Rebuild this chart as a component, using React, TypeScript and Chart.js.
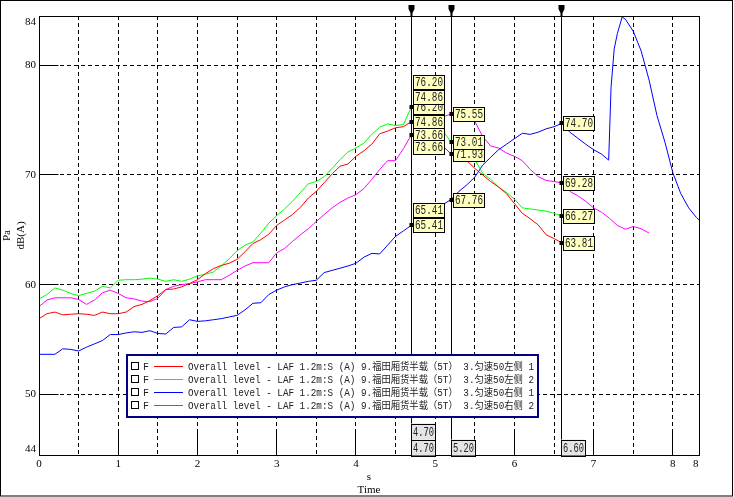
import React, { useEffect, useRef } from 'react';
import { Chart, registerables } from 'chart.js';

Chart.register(...registerables);

// ---------- data ----------
const time = [
  0.0, 0.1, 0.2, 0.3, 0.4, 0.5, 0.6, 0.7, 0.8, 0.9,
  1.0, 1.1, 1.2, 1.3, 1.4, 1.5, 1.6, 1.7, 1.8, 1.9,
  2.0, 2.1, 2.2, 2.3, 2.4, 2.5, 2.6, 2.7, 2.8, 2.9,
  3.0, 3.1, 3.2, 3.3, 3.4, 3.5, 3.6, 3.7, 3.8, 3.9,
  4.0, 4.1, 4.2, 4.3, 4.4, 4.5, 4.6, 4.7, 4.8, 4.9,
  5.0, 5.1, 5.2, 5.3, 5.4, 5.5, 5.6, 5.7, 5.8, 5.9,
  6.0, 6.1, 6.2, 6.3, 6.4, 6.5, 6.6, 6.7, 6.8, 6.9,
  7.0, 7.1, 7.2, 7.3, 7.4, 7.5, 7.6, 7.7,
];

// 左侧 1 (red)
const leftSide1 = [
  56.9, 57.35, 57.5, 57.25, 57.3, 57.35, 57.3, 57.2, 57.5, 57.35,
  57.35, 57.5, 58.0, 58.2, 58.55, 59.0, 59.55, 59.6, 59.8, 60.1,
  60.45, 61.0, 61.45, 61.75, 61.95, 62.3, 63.0, 63.75, 64.1, 64.6,
  65.4, 65.9, 66.4, 67.05, 67.9, 68.5, 69.3, 70.1, 70.8, 71.0,
  71.7, 72.2, 72.8, 73.75, 74.0, 74.3, 74.4, 74.86, 74.6, 74.0,
  73.3, 72.6, 71.93, 71.7, 71.3, 70.6, 70.0, 69.4, 68.9, 68.3,
  67.4, 66.5, 66.0, 65.45, 64.55, 64.2, 63.81,
];

// 左侧 2 (green)
const leftSide2 = [
  58.7, 59.1, 59.7, 59.5, 59.2, 59.0, 59.2, 59.4, 59.85, 59.7,
  60.4, 60.45, 60.45, 60.5, 60.6, 60.5, 60.3, 60.45, 60.3, 60.5,
  60.8, 60.95, 61.15, 61.7, 62.35, 63.1, 63.6, 63.9, 64.7, 65.6,
  66.3, 66.9, 67.6, 68.4, 69.2, 69.4, 69.85, 70.6, 71.4, 72.1,
  72.45, 72.9, 73.7, 74.35, 74.65, 74.5, 74.6, 76.2, 76.4, 75.9,
  75.0, 74.0, 73.01, 72.4, 71.9, 71.4, 70.15, 69.6, 68.9, 68.4,
  67.8, 67.0, 66.9, 66.8, 66.7, 66.5, 66.27,
];

// 右侧 2 (magenta)
const rightSide2 = [
  58.0, 58.6, 58.8, 58.8, 58.8, 58.65, 58.2, 58.6, 59.25, 59.5,
  59.2, 58.8, 58.7, 58.5, 58.45, 58.75, 59.55, 59.85, 60.0, 60.1,
  60.25, 60.45, 60.45, 60.45, 60.85, 61.3, 61.7, 62.0, 62.0, 62.0,
  62.9, 63.3, 63.95, 64.55, 65.1, 65.75, 66.4, 67.0, 67.5, 67.9,
  68.2, 68.75, 69.6, 70.5, 71.3, 71.3, 72.4, 73.66, 74.2, 74.6,
  75.0, 75.3, 75.55, 75.5, 75.2, 74.9, 73.5, 72.65, 72.45, 72.0,
  71.7, 71.3, 70.5, 69.85, 69.5, 69.4, 69.28, 68.5, 68.1, 67.6,
  67.0, 66.6, 66.05, 65.4, 65.05, 65.3, 65.1, 64.7,
];

// 右侧 1 (blue) has its own time base
const blueTime = [
  0.0, 0.1, 0.2, 0.3, 0.4, 0.5, 0.6, 0.7, 0.8, 0.9,
  1.0, 1.1, 1.2, 1.3, 1.4, 1.5, 1.6, 1.7, 1.8, 1.9,
  2.0, 2.1, 2.2, 2.3, 2.4, 2.5, 2.6, 2.7, 2.8, 2.9,
  3.0, 3.1, 3.2, 3.3, 3.4, 3.5, 3.6, 3.7, 3.8, 3.9,
  4.0, 4.1, 4.2, 4.3, 4.4, 4.5, 4.6, 4.7, 4.8, 4.9,
  5.0, 5.1, 5.2, 5.3, 5.4, 5.5, 5.6, 5.7, 5.8, 5.9,
  6.0, 6.1, 6.2, 6.3, 6.4, 6.5, 6.6, 6.7, 6.8, 6.9,
  7.0, 7.1, 7.19, 7.22, 7.26, 7.3, 7.36, 7.4, 7.5, 7.6,
  7.7, 7.8, 7.9, 8.0, 8.1, 8.2, 8.3, 8.33,
];
const rightSide1 = [
  53.65, 53.65, 53.65, 54.15, 54.1, 53.95, 54.3, 54.6, 54.9, 55.45,
  55.45, 55.6, 55.7, 55.65, 55.8, 55.55, 55.5, 56.1, 56.15, 56.8,
  56.65, 56.7, 56.8, 56.9, 57.05, 57.2, 57.7, 58.3, 58.35, 59.1,
  59.5, 59.8, 60.0, 60.15, 60.3, 60.4, 61.1, 61.3, 61.5, 61.7,
  61.95, 62.5, 62.85, 62.8, 63.6, 64.4, 64.9, 65.41, 65.9, 66.4,
  66.8, 67.3, 67.76, 68.5, 69.1, 69.8, 70.9, 71.6, 72.3, 72.8,
  73.3, 73.8, 73.7, 73.9, 74.2, 74.4, 74.7, 73.9, 73.35, 72.8,
  72.3, 71.9, 71.35, 78.0, 81.5, 82.9, 84.4, 84.2, 83.1, 81.3,
  78.65, 75.4, 73.0, 70.2, 68.3, 67.0, 66.1, 65.9,
];

const seriesLabels = [
  'Overall level - LAF 1.2m:S (A) 9.福田厢货半载（5T） 3.匀速50左侧 1',
  'Overall level - LAF 1.2m:S (A) 9.福田厢货半载（5T） 3.匀速50左侧 2',
  'Overall level - LAF 1.2m:S (A) 9.福田厢货半载（5T） 3.匀速50右侧 1',
  'Overall level - LAF 1.2m:S (A) 9.福田厢货半载（5T） 3.匀速50右侧 2',
];
const seriesColors = ['#ff0000', '#00ff00', '#0000ff', '#ff00ff'];

const cursorTimes = [4.7, 5.2, 6.6];

const xGridValues = [0, 0.5, 1, 1.5, 2, 2.5, 3, 3.5, 4, 4.5, 5, 5.5, 6, 6.5, 7, 7.5, 8];
const yTickValues = [50, 60, 70, 80];
const xMin = 0;
const xMax = 8.33;
const yMin = 44.47;
const yMax = 84.49;

const yTitle = ['Pa', 'dB(A)'];
const xTitle = ['s', 'Time'];

// ---------- helpers ----------
const SERIF = '"Liberation Serif", "Times New Roman", serif';
const MONO = '"Liberation Mono", "DejaVu Sans Mono", "Noto Sans CJK SC", monospace';
const LEGEND_FONT = '10px "Liberation Mono", "Noto Sans CJK SC", monospace';

const seriesDefs = [
  { t: time, v: leftSide1 },
  { t: time, v: leftSide2 },
  { t: blueTime, v: rightSide1 },
  { t: time, v: rightSide2 },
];

function valueAt(ts: number[], vs: number[], t: number): number | null {
  for (let i = 0; i < vs.length; i++) {
    if (Math.abs(ts[i] - t) < 1e-6) return vs[i];
  }
  return null;
}

const al = (p: number) => Math.round(p - 0.5) + 0.5;

function drawBox(ctx: CanvasRenderingContext2D, x: number, y: number, w: number, h: number, fill: string, text: string) {
  ctx.fillStyle = fill;
  ctx.fillRect(x, y, w, h);
  ctx.strokeStyle = '#000';
  ctx.lineWidth = 1;
  ctx.strokeRect(Math.round(x) + 0.5, Math.round(y) + 0.5, w, h);
  ctx.fillStyle = '#222';
  ctx.font = '12px ' + MONO;
  ctx.textAlign = 'left';
  ctx.textBaseline = 'middle';
  ctx.fillText(text, x + 2, y + h / 2 + 1, w - 3);
}

const overlay = {
  id: 'overlay',
  afterDraw(chart: any) {
    const { ctx, chartArea: ca } = chart;
    const xs = chart.scales.x;
    const ys = chart.scales.y;
    ctx.save();
    ctx.setLineDash([]);
    ctx.strokeStyle = '#000';
    ctx.lineWidth = 1;

    // plot frame
    const L = al(ca.left), R = al(ca.right), T = al(ca.top), B = al(ca.bottom);
    ctx.strokeRect(L, T, R - L, B - T);

    // inward solid tick segments
    ctx.beginPath();
    xGridValues.filter((v) => Number.isInteger(v) && v > 0).forEach((v) => {
      const px = al(xs.getPixelForValue(v));
      ctx.moveTo(px, B);
      ctx.lineTo(px, B - 23);
    });
    yTickValues.forEach((v) => {
      const py = al(ys.getPixelForValue(v));
      ctx.moveTo(L, py);
      ctx.lineTo(L + 19, py);
    });
    ctx.stroke();

    // cursors
    const boxW = 31;
    const boxH = 14;
    cursorTimes.forEach((ct, ci) => {
      const cx = al(xs.getPixelForValue(ct));
      ctx.strokeStyle = '#000';
      ctx.lineWidth = 1;
      ctx.beginPath();
      ctx.moveTo(cx, 6);
      ctx.lineTo(cx, B);
      ctx.stroke();
      // top marker
      ctx.fillStyle = '#000';
      ctx.beginPath();
      ctx.moveTo(cx - 3, 5);
      ctx.lineTo(cx + 3, 5);
      ctx.lineTo(cx + 3, 9);
      ctx.lineTo(cx + 1, 13);
      ctx.lineTo(cx + 1, 16);
      ctx.lineTo(cx - 1, 16);
      ctx.lineTo(cx - 1, 13);
      ctx.lineTo(cx - 3, 9);
      ctx.closePath();
      ctx.fill();

      const readings = seriesDefs.map((s) => valueAt(s.t, s.v, ct));
      // value-centred boxes
      readings.forEach((val) => {
        if (val == null) return;
        const py = ys.getPixelForValue(val);
        drawBox(ctx, cx + 1.5, Math.round(py - boxH / 2), boxW, boxH, '#ffffc0', val.toFixed(2));
      });
      // duplicated (stacked) boxes of the first cursor
      if (ci === 0) {
        const shift = [-32, -32, -22, 5];
        readings.forEach((val, si) => {
          if (val == null) return;
          const py = ys.getPixelForValue(val);
          drawBox(ctx, cx + 1.5, Math.round(py + shift[si]), boxW, boxH, '#ffffc0', val.toFixed(2));
        });
      }
      // markers
      readings.forEach((val) => {
        if (val == null) return;
        const py = ys.getPixelForValue(val);
        ctx.fillStyle = '#000';
        ctx.fillRect(cx - 2, Math.round(py) - 2, 4, 4);
      });
      // x readout boxes
      const gw = 24;
      const gh = 16;
      drawBox(ctx, cx - 0.5, B - gh, gw, gh, '#e4e4e4', ct.toFixed(2));
      if (ci === 0) drawBox(ctx, cx - 0.5, B - 2 * gh, gw, gh, '#e4e4e4', ct.toFixed(2));
    });

    // legend
    const lx = 127, ly = 355, lw = 411, lh = 62;
    ctx.fillStyle = '#fff';
    ctx.fillRect(lx, ly, lw, lh);
    ctx.strokeStyle = '#000080';
    ctx.lineWidth = 2;
    ctx.strokeRect(lx, ly, lw, lh);
    chart.data.datasets.forEach((ds: any, i: number) => {
      const ry = 366 + i * 13;
      ctx.lineWidth = 1;
      ctx.strokeStyle = '#000';
      ctx.strokeRect(131.5, ry - 3.5, 7, 7);
      ctx.fillStyle = '#222';
      ctx.font = LEGEND_FONT;
      ctx.textAlign = 'left';
      ctx.textBaseline = 'middle';
      ctx.fillText('F', 143, ry + 1);
      ctx.strokeStyle = ds.borderColor;
      ctx.beginPath();
      ctx.moveTo(154, ry + 0.5);
      ctx.lineTo(183, ry + 0.5);
      ctx.stroke();
      ctx.fillStyle = '#222';
      ctx.fillText(ds.label, 188, ry + 1, 346);
    });

    // outer border
    ctx.strokeStyle = '#000';
    ctx.lineWidth = 1;
    ctx.strokeRect(0.5, 0.5, 732, 495.5);
    ctx.restore();
  },
};

export default function App() {
  const ref = useRef<HTMLCanvasElement>(null);
  useEffect(() => {
    document.body.style.margin = '0';
    const canvas = ref.current;
    if (!canvas) return;
    const chart = new Chart(canvas, {
      type: 'line',
      data: {
        datasets: seriesDefs.map((s, i) => ({
          label: seriesLabels[i],
          data: s.v.map((y, k) => ({ x: s.t[k], y })),
          borderColor: seriesColors[i],
          backgroundColor: seriesColors[i],
          borderWidth: 1,
          pointRadius: 0,
          tension: 0,
          fill: false,
        })),
      },
      options: {
        responsive: false,
        animation: false,
        devicePixelRatio: 1,
        layout: { padding: { left: 0, top: 16, right: 35, bottom: 0 } },
        plugins: { legend: { display: false }, tooltip: { enabled: false } },
        scales: {
          x: {
            type: 'linear',
            min: xMin,
            max: xMax,
            afterBuildTicks: (s: any) => {
              s.ticks = [...xGridValues.map((v) => ({ value: v })), { value: xMax - 0.04 }];
            },
            afterFit: (s: any) => {
              s.height = 42;
            },
            grid: {
              drawTicks: false,
              lineWidth: 1,
              color: (c: any) => {
                const v = c.tick ? c.tick.value : undefined;
                return v !== undefined && v > 0 && v <= 8 ? '#000' : 'rgba(0,0,0,0)';
              },
            },
            border: { display: false, dash: [4, 3] },
            ticks: {
              autoSkip: false,
              maxRotation: 0,
              padding: 3,
              color: '#000',
              font: { family: SERIF, size: 11 },
              callback: function (this: any, value: any, index: number, ticks: any[]) {
                if (index === ticks.length - 1) return String(Math.round(this.max));
                return Number.isInteger(value) ? String(value) : '';
              },
            },
            title: {
              display: true,
              text: xTitle,
              color: '#000',
              font: { family: SERIF, size: 11 },
              padding: 0,
            },
          },
          y: {
            type: 'linear',
            min: yMin,
            max: yMax,
            afterBuildTicks: (s: any) => {
              s.ticks = [
                { value: yMin + 0.55 },
                ...yTickValues.map((v) => ({ value: v })),
                { value: yMax - 0.55 },
              ];
            },
            afterFit: (s: any) => {
              s.width = 39;
            },
            grid: {
              drawTicks: false,
              lineWidth: 1,
              color: (c: any) => {
                const v = c.tick ? c.tick.value : undefined;
                return v !== undefined && yTickValues.includes(v) ? '#000' : 'rgba(0,0,0,0)';
              },
            },
            border: { display: false, dash: [4, 3] },
            ticks: {
              autoSkip: false,
              padding: 3,
              color: '#000',
              font: { family: SERIF, size: 11 },
              callback: function (this: any, value: any, index: number, ticks: any[]) {
                if (index === 0) return String(Math.round(this.min));
                if (index === ticks.length - 1) return String(Math.round(this.max));
                return String(value);
              },
            },
            title: {
              display: true,
              text: yTitle,
              color: '#000',
              font: { family: SERIF, size: 11 },
              padding: { top: 1, bottom: 0 },
            },
          },
        },
      },
      plugins: [overlay],
    } as any);
    return () => chart.destroy();
  }, []);
  return (
    <div style={{ width: 734, height: 497 }}>
      <canvas ref={ref} width={734} height={497} style={{ display: 'block' }} />
    </div>
  );
}
